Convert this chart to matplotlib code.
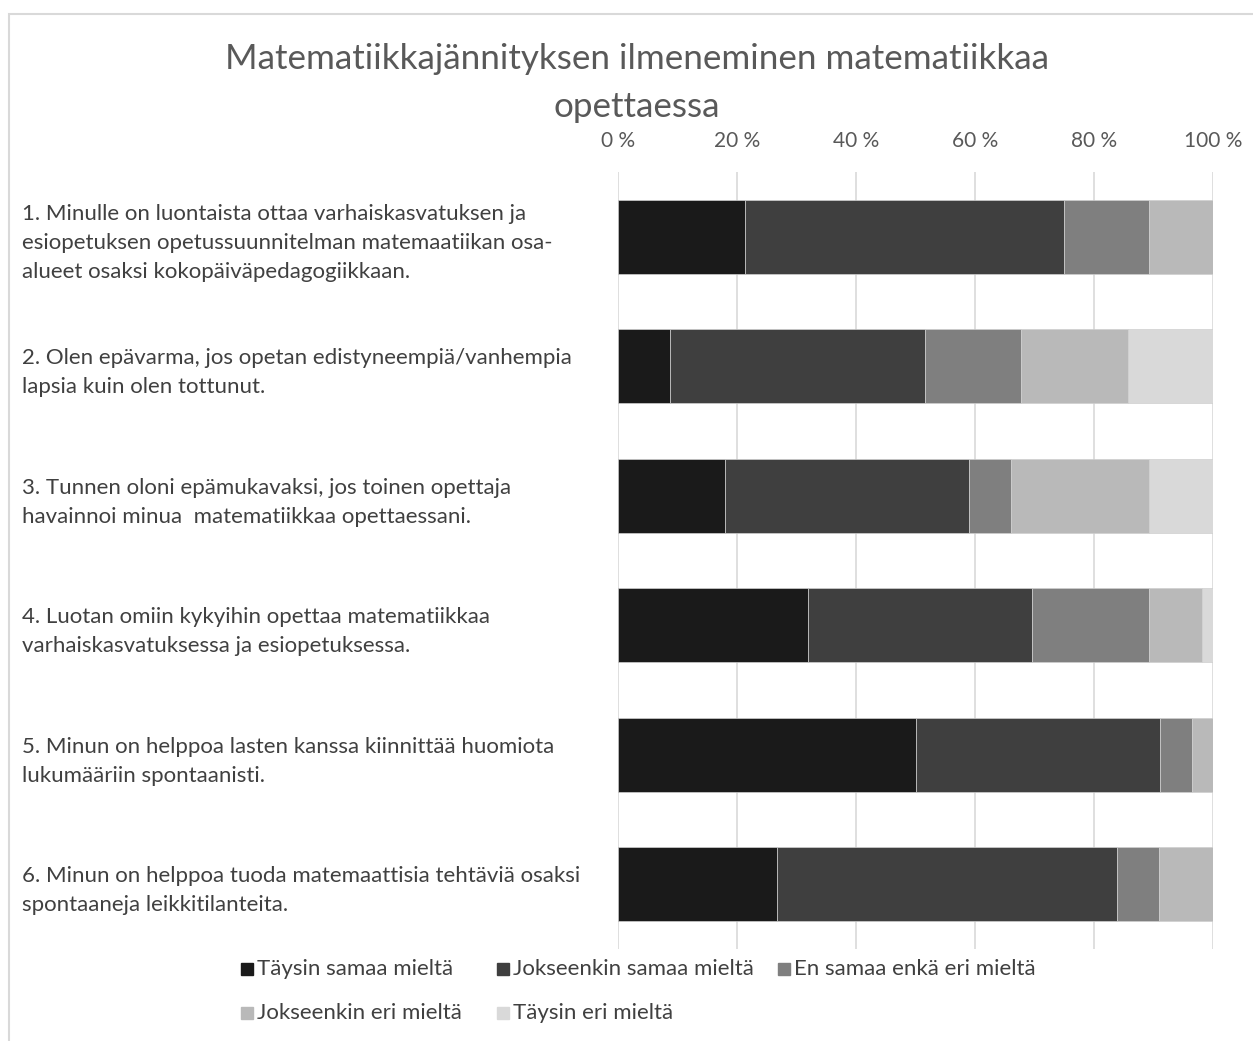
import numpy as np
import matplotlib.pyplot as plt
from matplotlib.patches import Rectangle
from matplotlib.ticker import FuncFormatter

plt.rcParams['font.family'] = ['Lato', 'DejaVu Sans']

questions = [
    '1. Minulle on luontaista ottaa varhaiskasvatuksen ja\nesiopetuksen opetussuunnitelman matemaatiikan osa-\nalueet osaksi kokopäiväpedagogiikkaan.',
    '2. Olen epävarma, jos opetan edistyneempiä/vanhempia\nlapsia kuin olen tottunut.',
    '3. Tunnen oloni epämukavaksi, jos toinen opettaja\nhavainnoi minua  matematiikkaa opettaessani.',
    '4. Luotan omiin kykyihin opettaa matematiikkaa\nvarhaiskasvatuksessa ja esiopetuksessa.',
    '5. Minun on helppoa lasten kanssa kiinnittää huomiota\nlukumääriin spontaanisti.',
    '6. Minun on helppoa tuoda matemaattisia tehtäviä osaksi\nspontaaneja leikkitilanteita.',
]
series_names = ['Täysin samaa mieltä', 'Jokseenkin samaa mieltä', 'En samaa enkä eri mieltä',
                'Jokseenkin eri mieltä', 'Täysin eri mieltä']

# shares in percent, one list per answer option
taysin_samaa = [21.4, 8.7, 17.9, 32.0, 50.0, 26.8]
jokseenkin_samaa = [53.6, 42.9, 41.1, 37.5, 41.1, 57.1]
ei_samaa_eika_eri = [14.3, 16.1, 7.1, 19.7, 5.4, 7.1]
jokseenkin_eri = [10.7, 18.0, 23.2, 9.0, 3.5, 9.0]
taysin_eri = [0.0, 14.3, 10.7, 1.8, 0.0, 0.0]

series = [taysin_samaa, jokseenkin_samaa, ei_samaa_eika_eri, jokseenkin_eri, taysin_eri]
colors = ['#1a1a1a', '#3f3f3f', '#7f7f7f', '#b9b9b9', '#d9d9d9']

W, H = 1253, 1041
fig = plt.figure(figsize=(W / 100, H / 100), dpi=100)
ax = fig.add_axes([618 / W, 1 - 949 / H, 595 / W, 777 / H])

y = np.arange(len(questions))
left = np.zeros(len(questions))
for vals, col, name in zip(series, colors, series_names):
    ax.barh(y, vals, left=left, height=0.57, color=col, edgecolor='#cfcfcf',
            linewidth=0.5, label=name, zorder=3)
    left += np.array(vals)

ax.set_xlim(0, 100)
ax.set_ylim(len(questions) - 0.5, -0.5)
ax.set_xticks(np.arange(0, 101, 20))
ax.xaxis.set_major_formatter(FuncFormatter(lambda v, p: f'{v:.0f} %'))
ax.xaxis.tick_top()
ax.tick_params(axis='x', length=0, pad=15, labelsize=15, labelcolor='#595959')
ax.grid(axis='x', color='#d9d9d9', linewidth=1.2, zorder=0)
for s in ax.spines.values():
    s.set_visible(False)

ax.set_yticks(y)
ax.set_yticklabels(questions, ha='left', fontsize=16, color='#404040', linespacing=1.56)
ax.tick_params(axis='y', length=0, pad=(618 - 22) * 0.72)

fig.text(637 / W, 1 - 83 / H, 'Matematiikkajännityksen ilmeneminen matematiikkaa\nopettaessa',
         ha='center', va='center', fontsize=25.2, color='#595959', linespacing=1.6)

# legend drawn by hand to copy the uneven column spacing
legend_pos = [(241, 969), (497, 969), (778, 969), (241, 1013), (497, 1013)]
for (lx, ly), col, name in zip(legend_pos, colors, series_names):
    fig.add_artist(Rectangle((lx / W, 1 - (ly + 6) / H), 12 / W, 12 / H,
                             transform=fig.transFigure, color=col))
    fig.text((lx + 16) / W, 1 - ly / H, name, ha='left', va='center',
             fontsize=16, color='#404040')

# chart frame
fig.add_artist(Rectangle((9 / W, -0.05), 1.1, 1 - 14 / H + 0.05, transform=fig.transFigure,
                         fill=False, edgecolor='#d9d9d9', linewidth=1.5))

fig.savefig('out.png', dpi=100)
